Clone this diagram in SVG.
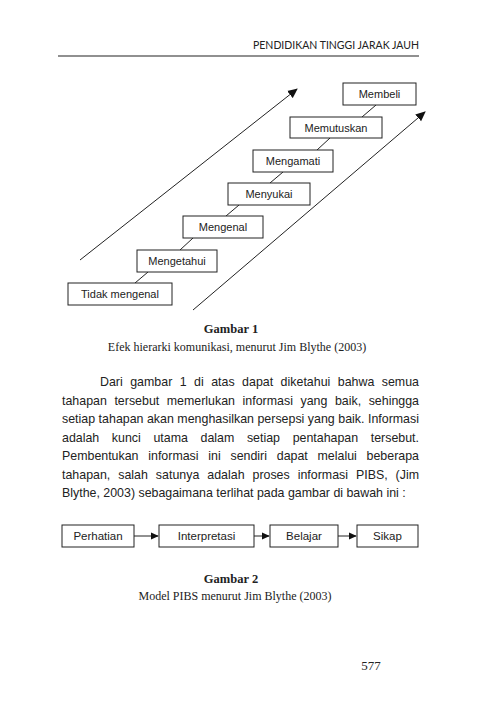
<svg xmlns="http://www.w3.org/2000/svg" width="480" height="715" viewBox="0 0 480 715">
<defs>
<marker id="ah" viewBox="0 0 10 10" refX="9" refY="5" markerWidth="10" markerHeight="10" markerUnits="userSpaceOnUse" orient="auto"><path d="M0,0.5 L10,5 L0,9.5 Z" fill="#111"/></marker>
<marker id="ah2" viewBox="0 0 10 10" refX="9" refY="5" markerWidth="8" markerHeight="8" markerUnits="userSpaceOnUse" orient="auto"><path d="M0,0.5 L10,5 L0,9.5 Z" fill="#111"/></marker>
<style>
.box{fill:#fff;stroke:#222;stroke-width:1}
.lbl{font-family:"Liberation Sans",Arial,sans-serif;font-size:11px;fill:#222;text-anchor:middle}
.lbl2{font-family:"Liberation Sans",Arial,sans-serif;font-size:11.5px;fill:#222;text-anchor:middle}
.ln{stroke:#222;stroke-width:1;fill:none}
.body{font-family:"Liberation Sans",Arial,sans-serif;font-size:12.4px;fill:#222}
.cap{font-family:"Liberation Serif","Times New Roman",serif;font-size:12px;fill:#222;text-anchor:middle}
.capb{font-family:"Liberation Serif","Times New Roman",serif;font-size:12.5px;font-weight:bold;fill:#222;text-anchor:middle}
</style>
</defs>
<rect width="480" height="715" fill="#fff"/>
<text x="419" y="49" text-anchor="end" font-family="Lato,'Open Sans',sans-serif" font-size="10.5" fill="#222" textLength="166" lengthAdjust="spacingAndGlyphs">PENDIDIKAN TINGGI JARAK JAUH</text>
<line x1="58" y1="56" x2="419" y2="56" stroke="#222" stroke-width="1.2"/>

<g id="connectors">
<line class="ln" x1="80" y1="260" x2="297" y2="89" marker-end="url(#ah)"/>
<line class="ln" x1="193" y1="310" x2="425" y2="112" marker-end="url(#ah)"/>
<line class="ln" x1="135" y1="283" x2="148" y2="272"/>
<line class="ln" x1="180" y1="250" x2="193" y2="238"/>
<line class="ln" x1="226" y1="216" x2="239" y2="205"/>
<line class="ln" x1="270" y1="183" x2="283" y2="172"/>
<line class="ln" x1="317" y1="150" x2="330" y2="138"/>
<line class="ln" x1="362" y1="117" x2="376" y2="105"/>
<line class="ln" x1="134" y1="536" x2="158" y2="536" marker-end="url(#ah2)"/>
<line class="ln" x1="254" y1="536" x2="269" y2="536" marker-end="url(#ah2)"/>
<line class="ln" x1="338" y1="536" x2="356" y2="536" marker-end="url(#ah2)"/>
</g>

<g id="tidak-mengenal"><rect class="box" x="68" y="283" width="104" height="22"/><text class="lbl" x="120" y="298">Tidak mengenal</text></g>
<g id="mengetahui"><rect class="box" x="137" y="250" width="80" height="22"/><text class="lbl" x="177" y="265">Mengetahui</text></g>
<g id="mengenal"><rect class="box" x="183" y="216" width="80" height="22"/><text class="lbl" x="223" y="231">Mengenal</text></g>
<g id="menyukai"><rect class="box" x="228" y="183" width="82" height="22"/><text class="lbl" x="269" y="198">Menyukai</text></g>
<g id="mengamati"><rect class="box" x="253" y="150" width="80" height="22"/><text class="lbl" x="293" y="165">Mengamati</text></g>
<g id="memutuskan"><rect class="box" x="290" y="117" width="92" height="21"/><text class="lbl" x="336" y="131.5">Memutuskan</text></g>
<g id="membeli"><rect class="box" x="343" y="83" width="73" height="22"/><text class="lbl" x="379.5" y="98">Membeli</text></g>

<text class="capb" x="231" y="333">Gambar 1</text>
<text class="cap" x="237" y="351">Efek hierarki komunikasi, menurut Jim Blythe (2003)</text>

<g id="paragraph">
<text class="body" x="100" y="386" word-spacing="4" textLength="319" lengthAdjust="spacing">Dari gambar 1 di atas dapat diketahui bahwa semua</text>
<text class="body" x="62" y="404.5" word-spacing="4.1" textLength="357" lengthAdjust="spacing">tahapan tersebut memerlukan informasi yang baik, sehingga</text>
<text class="body" x="62" y="423" textLength="357" lengthAdjust="spacing">setiap tahapan akan menghasilkan persepsi yang baik. Informasi</text>
<text class="body" x="62" y="441.5" word-spacing="9.2" textLength="357" lengthAdjust="spacing">adalah kunci utama dalam setiap pentahapan tersebut.</text>
<text class="body" x="62" y="460" word-spacing="6.3" textLength="357" lengthAdjust="spacing">Pembentukan informasi ini  sendiri dapat melalui beberapa</text>
<text class="body" x="62" y="478.5" word-spacing="4.5" textLength="357" lengthAdjust="spacing">tahapan, salah satunya adalah proses informasi PIBS, (Jim</text>
<text class="body" x="62" y="497">Blythe, 2003) sebagaimana terlihat pada gambar di bawah ini :</text>
</g>

<g id="perhatian"><rect class="box" x="62" y="525" width="72" height="22"/><text class="lbl2" x="98" y="540">Perhatian</text></g>
<g id="interpretasi"><rect class="box" x="159" y="525" width="95" height="22"/><text class="lbl2" x="206.5" y="540">Interpretasi</text></g>
<g id="belajar"><rect class="box" x="270" y="525" width="68" height="22"/><text class="lbl2" x="304" y="540">Belajar</text></g>
<g id="sikap"><rect class="box" x="357" y="525" width="61" height="22"/><text class="lbl2" x="387.5" y="540">Sikap</text></g>

<text class="capb" x="231" y="583">Gambar 2</text>
<text class="cap" x="235" y="600">Model PIBS menurut Jim Blythe (2003)</text>

<text x="371" y="670" text-anchor="middle" font-family="'Liberation Serif','Times New Roman',serif" font-size="13" fill="#222">577</text>
</svg>
